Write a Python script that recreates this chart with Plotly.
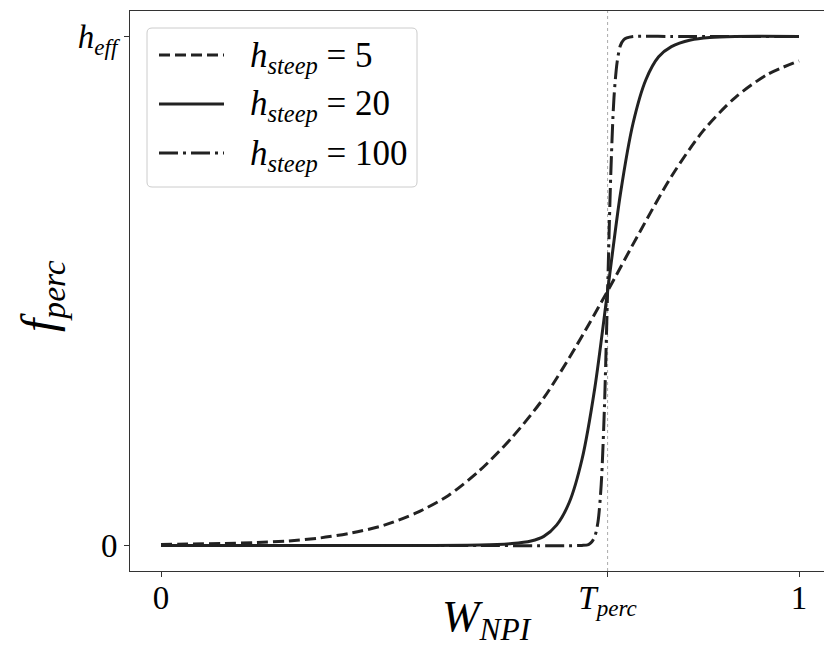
import plotly.graph_objects as go

# ---- data ----
T_PERC = 0.7
H_EFF = 1.0

x_h5 = [0.0, 0.05, 0.1, 0.15, 0.2, 0.25, 0.3, 0.35, 0.4, 0.45, 0.5, 0.55, 0.6, 0.65, 0.7,
        0.75, 0.8, 0.85, 0.9, 0.95, 1.0]
y_h5 = [0.002, 0.003, 0.004, 0.006, 0.009, 0.015, 0.025, 0.04, 0.064, 0.098, 0.148, 0.212, 0.29, 0.39, 0.50,
        0.615, 0.725, 0.815, 0.88, 0.925, 0.952]

x_h20 = [0.0, 0.3, 0.5, 0.55, 0.58, 0.6, 0.62, 0.64, 0.66, 0.68, 0.7, 0.72, 0.74, 0.76, 0.78, 0.8, 0.83, 0.86, 0.9, 1.0]
y_h20 = [0.0, 0.0, 0.001, 0.004, 0.009, 0.018, 0.04, 0.085, 0.17, 0.31, 0.5, 0.69, 0.83, 0.915, 0.96, 0.98, 0.993, 0.998, 1.0, 1.0]

x_h100 = [0.0, 0.5, 0.66, 0.67, 0.675, 0.68, 0.685, 0.69, 0.695, 0.7, 0.705, 0.71, 0.715, 0.72, 0.725, 0.73, 0.74, 0.8, 1.0]
y_h100 = [0.0, 0.0, 0.0003, 0.002, 0.007, 0.018, 0.047, 0.12, 0.27, 0.5, 0.73, 0.88, 0.95, 0.982, 0.993, 0.997, 1.0, 1.0, 1.0]

series_names = ["<i>h</i><sub><i>steep</i></sub> = 5",
                "<i>h</i><sub><i>steep</i></sub> = 20",
                "<i>h</i><sub><i>steep</i></sub> = 100"]
series_dash = ["11px,5px", "solid", "19px,5px,3px,5px"]

x_tickvals = [0, T_PERC, 1]
x_ticktext = ["0", "<i>T</i><sub><i>perc</i></sub>", "1"]
y_tickvals = [0, H_EFF]
y_ticktext = ["0", "<i>h</i><sub><i>eff</i></sub>"]

LINE_COLOR = "#222222"
TEXT_COLOR = "#000000"
FONT = "Liberation Serif"

W, H = 824, 650
L, R, TOP, BOT = 130, 824, 11, 571  # plot area in pixels


def px_to_paper(px, py):
    return (px - L) / (R - L), (BOT - py) / (BOT - TOP)


fig = go.Figure()
for xs, ys, name, dash in zip([x_h5, x_h20, x_h100], [y_h5, y_h20, y_h100], series_names, series_dash):
    fig.add_trace(go.Scatter(
        x=xs, y=ys, mode="lines", name=name,
        line=dict(color=LINE_COLOR, width=3, dash=dash, shape="spline", smoothing=0.8),
        showlegend=False,
    ))

shapes = []
# vertical reference line at T_perc
shapes.append(dict(type="line", xref="x", yref="paper", x0=T_PERC, x1=T_PERC, y0=0, y1=1,
                   line=dict(color="#aaaaaa", width=1, dash="dot"), layer="below"))

# legend box (rounded)
bx0, by0 = px_to_paper(147, 187)
bx1, by1 = px_to_paper(417, 28)
rx = 5 / (R - L)
ry = 5 / (BOT - TOP)
path = (f"M {bx0+rx},{by0} L {bx1-rx},{by0} Q {bx1},{by0} {bx1},{by0+ry} "
        f"L {bx1},{by1-ry} Q {bx1},{by1} {bx1-rx},{by1} L {bx0+rx},{by1} "
        f"Q {bx0},{by1} {bx0},{by1-ry} L {bx0},{by0+ry} Q {bx0},{by0} {bx0+rx},{by0} Z")
shapes.append(dict(type="path", xref="paper", yref="paper", path=path,
                   line=dict(color="#cccccc", width=1), fillcolor="rgba(255,255,255,0.8)"))

annotations = []
row_y = [55, 104, 153]
for name, dash, ry_px in zip(series_names, series_dash, row_y):
    sx0, sy = px_to_paper(159, ry_px)
    sx1, _ = px_to_paper(224, ry_px)
    shapes.append(dict(type="line", xref="paper", yref="paper", x0=sx0, x1=sx1, y0=sy, y1=sy,
                       line=dict(color=LINE_COLOR, width=3, dash=dash)))
    tx, ty = px_to_paper(248, ry_px + 2)
    annotations.append(dict(xref="paper", yref="paper", x=tx, y=ty, text=name, showarrow=False,
                            xanchor="left", yanchor="middle",
                            font=dict(family=FONT, size=35, color=TEXT_COLOR)))

# axis titles
ax, ay = px_to_paper(487, 619)
annotations.append(dict(xref="paper", yref="paper", x=ax, y=ay, text="<i>W</i><sub><i>NPI</i></sub>",
                        showarrow=False, xanchor="center", yanchor="middle",
                        font=dict(family=FONT, size=45, color=TEXT_COLOR)))
fx, fy = px_to_paper(42, 296)
annotations.append(dict(xref="paper", yref="paper", x=fx, y=fy, text="<i>f</i><sub><i>perc</i></sub>",
                        showarrow=False, xanchor="center", yanchor="middle", textangle=-90,
                        font=dict(family=FONT, size=48, color=TEXT_COLOR)))

fig.update_layout(
    width=W, height=H,
    margin=dict(l=L, r=W - R, t=TOP, b=H - BOT, pad=0),
    paper_bgcolor="white", plot_bgcolor="white",
    shapes=shapes, annotations=annotations,
    showlegend=False,
    font=dict(family=FONT, size=30, color=TEXT_COLOR),
)
fig.update_xaxes(
    range=[(L - 161) / 638, (R - 161) / 638],
    tickmode="array", tickvals=x_tickvals, ticktext=x_ticktext,
    tickfont=dict(family=FONT, size=33, color=TEXT_COLOR),
    ticks="outside", ticklen=5, tickwidth=1, tickcolor="#333",
    ticklabelstandoff=-8,
    showline=True, linecolor="#333", linewidth=1, mirror=True,
    showgrid=False, zeroline=False,
)
fig.update_yaxes(
    range=[-0.05, 1.05],
    tickmode="array", tickvals=y_tickvals, ticktext=y_ticktext,
    tickfont=dict(family=FONT, size=33, color=TEXT_COLOR),
    ticks="outside", ticklen=5, tickwidth=1, tickcolor="#333",
    showline=True, linecolor="#333", linewidth=1, mirror=False,
    showgrid=False, zeroline=False,
)

fig.write_html("out.html", config={"displayModeBar": False},
               post_script="document.body.style.margin='0';")
